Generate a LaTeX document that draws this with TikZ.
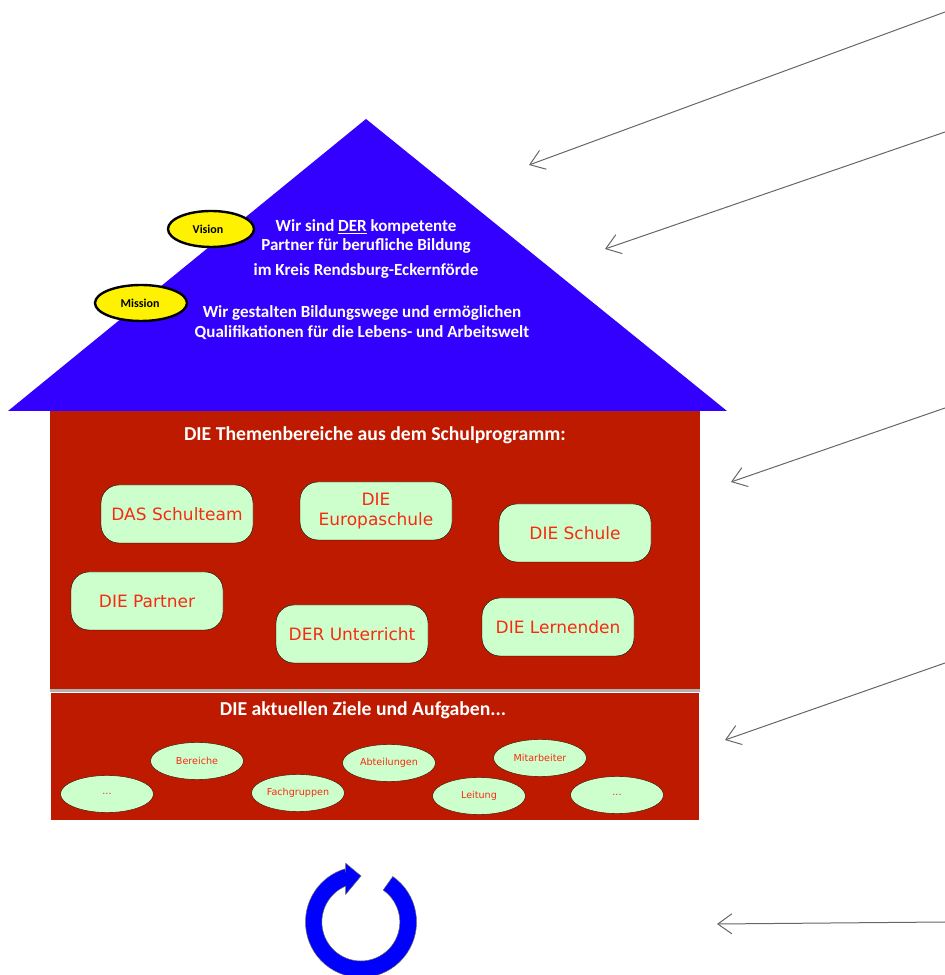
\documentclass[tikz,border=0pt]{standalone}
\usepackage{fontspec}
\setmainfont{Carlito}
\newfontfamily\boxfont{DejaVu Sans}
\usepackage{tikz}
\usetikzlibrary{arrows.meta}
\usetikzlibrary{shapes.geometric}

\definecolor{roofblue}{HTML}{3300FF}
\definecolor{wallred}{HTML}{BD1A00}
\definecolor{boxgreen}{HTML}{CCFFCC}
\definecolor{boxtext}{HTML}{F92A12}
\definecolor{pointer}{HTML}{666666}

\tikzset{
    roofline/.style={text=white, font=\bfseries\fontsize{17}{20}\selectfont},
    heading/.style={text=white, font=\bfseries\fontsize{19.7}{23}\selectfont},
    topic/.style={draw=black, fill=boxgreen, rounded corners=18pt, minimum width=152pt, minimum height=58pt,
        inner sep=2pt, align=center, text=boxtext, font=\boxfont\fontsize{17}{20}\selectfont},
    goal/.style={ellipse, draw=black!70!wallred, fill=boxgreen, minimum width=93pt, minimum height=37pt,
        inner sep=0pt, text=boxtext, font=\boxfont\fontsize{9.6}{11}\selectfont},
    badge/.style={ellipse, draw=black, line width=2.4pt, fill=yellow, minimum height=36pt,
        inner sep=0pt, text=black, font=\bfseries\fontsize{12}{14}\selectfont},
    pointerline/.style={draw=pointer, line width=1pt, -{Straight Barb[length=14pt,width=20pt]}},
}

\begin{document}
\begin{tikzpicture}[x=1pt, y=1pt]
    \useasboundingbox (0, 0) rectangle (945, 975);

    % house
    \fill[roofblue] (366, 856) -- (727, 564) -- (8, 564) -- cycle;
    \fill[wallred] (50, 564) rectangle (700, 286);
    \fill[black!30] (50, 286) rectangle (700, 283);
    \fill[wallred] (51, 282) rectangle (699, 155);

    % roof
    \node[roofline] (t1) at (366, 748) {Wir sind \underline{DER} kompetente};
    \node[roofline] (t2) at (366, 729) {Partner für berufliche Bildung};
    \node[roofline] (t3) at (366, 704) {im Kreis Rendsburg-Eckernförde};
    \node[roofline] (t4) at (362, 662) {Wir gestalten Bildungswege und ermöglichen};
    \node[roofline] (t5) at (362, 642) {Qualifikationen für die Lebens- und Arbeitswelt};

    \node[badge, minimum width=86pt, text depth=0pt] (vision) at (211, 746) {\hspace{-6pt}Vision};
    \node[badge, minimum width=92pt] (mission) at (141, 672) {\hspace{-2pt}Mission};

    % themes
    \node[heading] (themes) at (375, 540) {DIE Themenbereiche aus dem Schulprogramm:};
    \node[topic] (b1) at (177, 461) {DAS Schulteam};
    \node[topic] (b2) at (376, 464) {DIE\\Europaschule};
    \node[topic] (b3) at (575, 442) {DIE Schule};
    \node[topic] (b4) at (147, 374) {DIE Partner};
    \node[topic] (b5) at (352, 341) {DER Unterricht};
    \node[topic] (b6) at (558, 348) {DIE Lernenden};

    % goals
    \node[heading] (goals) at (363, 265) {DIE aktuellen Ziele und Aufgaben...};
    \node[goal] (g1) at (107, 181) {...};
    \node[goal] (g2) at (197, 214) {Bereiche};
    \node[goal] (g3) at (298, 182) {Fachgruppen};
    \node[goal] (g4) at (389, 212) {Abteilungen};
    \node[goal] (g5) at (479, 179) {Leitung};
    \node[goal] (g6) at (540, 217) {Mitarbeiter};
    \node[goal] (g7) at (617, 180) {...};

    % cycle
    \draw[fill=blue, draw=black!60, line width=0.5pt] (361, 53) ++(55:55.5) arc (55:-253:55.5)
        -- (345.7, 103.3) -- (345.7, 111.7) -- (361, 99) -- (345.7, 80.7) -- (345.6, 88.9)
        arc (-247:55:39) -- cycle;

    % pointers
    \coordinate (p1) at (945, 963);
    \coordinate (q1) at (529, 810);
    \coordinate (p2) at (945, 843);
    \coordinate (q2) at (605, 726);
    \coordinate (p3) at (945, 567);
    \coordinate (q3) at (731, 493);
    \coordinate (p4) at (945, 312);
    \coordinate (q4) at (725, 235);
    \coordinate (p5) at (945, 53);
    \coordinate (q5) at (717, 51);

    \draw[pointerline] (p1) to (q1);
    \draw[pointerline] (p2) to (q2);
    \draw[pointerline] (p3) to (q3);
    \draw[pointerline] (p4) to (q4);
    \draw[pointerline] (p5) to (q5);
\end{tikzpicture}
\end{document}
